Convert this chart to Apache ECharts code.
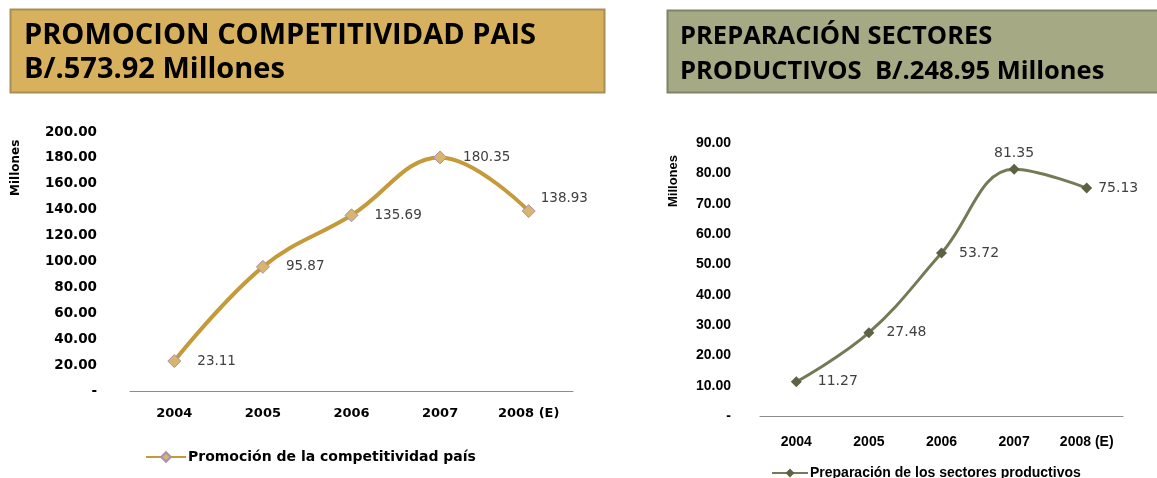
<!DOCTYPE html>
<html>
<head>
<meta charset="utf-8">
<script src="https://cdn.jsdelivr.net/npm/echarts@6/dist/echarts.min.js"></script>
<style>
    html, body { margin: 0; padding: 0; background: #fff; }
    #chart { width: 1157px; height: 478px; }
</style>
</head>
<body>
<div id="chart"></div>
<script>
var years = ['2004', '2005', '2006', '2007', '2008 (E)'];

var promoName = 'Promoción de la competitividad país';
var promoValues = [23.11, 95.87, 135.69, 180.35, 138.93];
var promoTitle = ['PROMOCION COMPETITIVIDAD PAIS', 'B/.573.92 Millones'];

var prepName = 'Preparación de los sectores productivos';
var prepValues = [11.27, 27.48, 53.72, 81.35, 75.13];
var prepTitle = ['PREPARACIÓN SECTORES', 'PRODUCTIVOS  B/.248.95 Millones'];

var axisName = 'Millones';

function fmtTick(v) {
    return v === 0 ? '-' : v.toFixed(2);
}

var chart = echarts.init(document.getElementById('chart'));

var verdana = 'DejaVu Sans';
var calibri = 'Liberation Sans';

var option = {
    animation: false,
    backgroundColor: '#ffffff',
    graphic: [
        {
            type: 'rect',
            shape: {x: 10.5, y: 9.5, width: 594, height: 83},
            style: {fill: '#D7B15E', stroke: '#A88E55', lineWidth: 2}
        },
        {
            type: 'text', x: 24, y: 19,
            style: {
                text: promoTitle.join('\n'), fill: '#000',
                font: 'bold 29px "Open Sans"', lineHeight: 34
            }
        },
        {
            type: 'rect',
            shape: {x: 667.5, y: 10.5, width: 495, height: 82},
            style: {fill: '#A5A984', stroke: '#7F8466', lineWidth: 2}
        },
        {
            type: 'text', x: 680, y: 19,
            style: {
                text: prepTitle.join('\n'), fill: '#000',
                font: 'bold 25.5px "Open Sans"', lineHeight: 35
            }
        },
        {
            type: 'text', x: 10, y: 196, rotation: Math.PI / 2,
            style: {text: axisName, fill: '#000', font: 'bold 12px ' + verdana}
        },
        {
            type: 'text', x: 667, y: 207, rotation: Math.PI / 2,
            style: {text: axisName, fill: '#000', font: 'bold 13px ' + calibri}
        }
    ],
    legend: [
        {
            data: [promoName],
            left: 140, top: 445,
            itemWidth: 40, itemHeight: 12, itemGap: 4,
            textStyle: {fontFamily: verdana, fontWeight: 'bold', fontSize: 14, color: '#000', padding: [0, 0, 0, -3]}
        },
        {
            data: [prepName],
            left: 766, top: 461,
            itemWidth: 36, itemHeight: 11,
            textStyle: {fontFamily: calibri, fontWeight: 'bold', fontSize: 14, color: '#000', padding: [0, 0, 0, -3]}
        }
    ],
    grid: [
        {left: 130, right: 584, top: 132, bottom: 87},
        {left: 760, right: 34, top: 143, bottom: 62}
    ],
    xAxis: [
        {
            type: 'category', gridIndex: 0, data: years, boundaryGap: true,
            axisLine: {lineStyle: {color: '#8c8c8c', width: 1}},
            axisTick: {show: false},
            axisLabel: {margin: 16, color: '#000', fontFamily: verdana, fontWeight: 'bold', fontSize: 13}
        },
        {
            type: 'category', gridIndex: 1, data: years, boundaryGap: true,
            axisLine: {lineStyle: {color: '#8c8c8c', width: 1}},
            axisTick: {show: false},
            axisLabel: {margin: 19, color: '#000', fontFamily: calibri, fontWeight: 'bold', fontSize: 14}
        }
    ],
    yAxis: [
        {
            type: 'value', gridIndex: 0, min: 0, max: 200, interval: 20,
            axisLine: {show: false}, axisTick: {show: false}, splitLine: {show: false},
            axisLabel: {margin: 33, color: '#000', fontFamily: verdana, fontWeight: 'bold', fontSize: 13.5, formatter: fmtTick}
        },
        {
            type: 'value', gridIndex: 1, min: 0, max: 90, interval: 10,
            axisLine: {show: false}, axisTick: {show: false}, splitLine: {show: false},
            axisLabel: {margin: 29, color: '#000', fontFamily: calibri, fontWeight: 'bold', fontSize: 14, formatter: fmtTick}
        }
    ],
    series: [
        {
            name: promoName, type: 'line', xAxisIndex: 0, yAxisIndex: 0,
            smooth: 0.4,
            symbol: 'diamond', symbolSize: 13,
            lineStyle: {color: '#C49A3A', width: 4},
            itemStyle: {color: '#D8B56C', borderColor: '#A890B0', borderWidth: 1},
            label: {
                show: true, position: 'right', distance: 16,
                color: '#404040', fontFamily: verdana, fontSize: 13.5,
                formatter: function (p) { return p.value.toFixed(2); }
            },
            data: promoValues.map(function (v, i) {
                if (i === 4) return {value: v, label: {position: 'right', distance: 5, offset: [0, -13]}};
                return v;
            })
        },
        {
            name: prepName, type: 'line', xAxisIndex: 1, yAxisIndex: 1,
            smooth: 0.4,
            symbol: 'diamond', symbolSize: 11,
            lineStyle: {color: '#737A55', width: 3},
            itemStyle: {color: '#5C6342'},
            label: {
                show: true, position: 'right', distance: 16,
                color: '#404040', fontFamily: verdana, fontSize: 14,
                formatter: function (p) { return p.value.toFixed(2); }
            },
            data: prepValues.map(function (v, i) {
                if (i === 3) return {value: v, label: {position: 'top', distance: 3}};
                if (i === 1 || i === 2) return {value: v, label: {position: 'right', distance: 12}};
                if (i === 4) return {value: v, label: {position: 'right', distance: 6}};
                return v;
            })
        }
    ]
};

chart.setOption(option);
</script>
</body>
</html>
